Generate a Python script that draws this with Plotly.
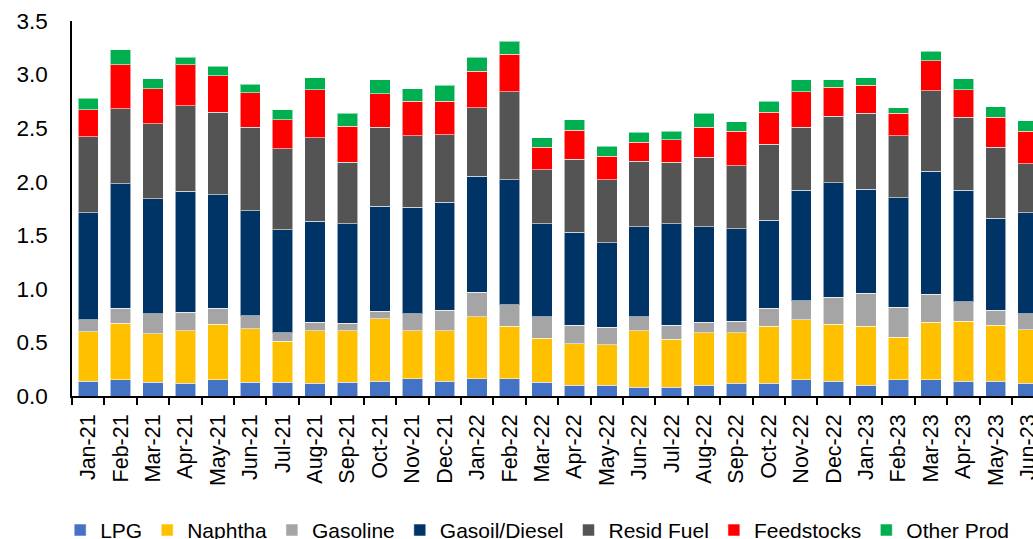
import plotly.graph_objects as go

months = ["Jan-21", "Feb-21", "Mar-21", "Apr-21", "May-21", "Jun-21", "Jul-21", "Aug-21",
          "Sep-21", "Oct-21", "Nov-21", "Dec-21", "Jan-22", "Feb-22", "Mar-22", "Apr-22",
          "May-22", "Jun-22", "Jul-22", "Aug-22", "Sep-22", "Oct-22", "Nov-22", "Dec-22",
          "Jan-23", "Feb-23", "Mar-23", "Apr-23", "May-23", "Jun-23"]

lpg = [0.14, 0.15, 0.13, 0.12, 0.15, 0.13, 0.13, 0.12, 0.13, 0.14, 0.16, 0.14, 0.16, 0.16, 0.13,
       0.10, 0.10, 0.08, 0.08, 0.10, 0.12, 0.12, 0.15, 0.14, 0.10, 0.15, 0.15, 0.14, 0.14, 0.12]
naphtha = [0.46, 0.53, 0.45, 0.49, 0.52, 0.50, 0.38, 0.49, 0.48, 0.58, 0.45, 0.47, 0.58, 0.49, 0.41,
           0.39, 0.38, 0.53, 0.45, 0.49, 0.47, 0.53, 0.56, 0.53, 0.55, 0.40, 0.54, 0.56, 0.52, 0.50]
gasoline = [0.11, 0.14, 0.19, 0.17, 0.15, 0.12, 0.08, 0.08, 0.07, 0.07, 0.16, 0.19, 0.23, 0.20, 0.20,
            0.17, 0.16, 0.13, 0.13, 0.10, 0.11, 0.17, 0.18, 0.25, 0.31, 0.28, 0.26, 0.18, 0.14, 0.15]
diesel = [1.00, 1.16, 1.07, 1.13, 1.06, 0.98, 0.96, 0.94, 0.93, 0.98, 0.99, 1.01, 1.08, 1.17, 0.87,
          0.87, 0.79, 0.84, 0.95, 0.89, 0.86, 0.82, 1.03, 1.07, 0.97, 1.02, 1.15, 1.04, 0.86, 0.94]
resid = [0.71, 0.70, 0.70, 0.80, 0.77, 0.78, 0.76, 0.78, 0.57, 0.74, 0.67, 0.63, 0.64, 0.82, 0.50,
         0.68, 0.59, 0.61, 0.57, 0.65, 0.59, 0.71, 0.59, 0.62, 0.71, 0.58, 0.75, 0.68, 0.66, 0.46]
feedstocks = [0.25, 0.41, 0.33, 0.38, 0.34, 0.32, 0.27, 0.45, 0.34, 0.31, 0.32, 0.31, 0.34, 0.35, 0.21,
              0.27, 0.22, 0.18, 0.21, 0.28, 0.32, 0.30, 0.33, 0.27, 0.26, 0.21, 0.28, 0.26, 0.28, 0.30]
other = [0.11, 0.14, 0.09, 0.07, 0.09, 0.08, 0.09, 0.11, 0.12, 0.13, 0.12, 0.15, 0.13, 0.12, 0.09,
         0.10, 0.09, 0.09, 0.08, 0.13, 0.09, 0.10, 0.11, 0.07, 0.07, 0.05, 0.09, 0.10, 0.10, 0.10]

series = [
    ("LPG", lpg, "#4472C4"),
    ("Naphtha", naphtha, "#FFC000"),
    ("Gasoline", gasoline, "#A5A5A5"),
    ("Gasoil/Diesel", diesel, "#003366"),
    ("Resid Fuel", resid, "#545454"),
    ("Feedstocks", feedstocks, "#FF0000"),
    ("Other Prod", other, "#00B050"),
]

fig = go.Figure()
for name, vals, color in series:
    fig.add_trace(go.Bar(
        x=months, y=vals, name=name,
        marker=dict(color=color, line=dict(color="rgba(255,255,255,0.55)", width=1)),
    ))

FONT = "Liberation Sans, Arial, sans-serif"

fig.update_layout(
    width=1033, height=539,
    barmode="stack", bargap=0.37,
    plot_bgcolor="white", paper_bgcolor="white",
    margin=dict(l=72, r=0, t=21, b=143, autoexpand=False),
    font=dict(family=FONT, color="#000000"),
    showlegend=True,
    legend=dict(
        orientation="h", traceorder="normal",
        xref="container", yref="container",
        x=0.52, xanchor="center", y=0.016, yanchor="middle",
        font=dict(size=21, family=FONT, color="#000000"),
        itemwidth=30,
    ),
)

fig.update_xaxes(
    type="category", range=[-0.5, 29.15],
    showline=True, linecolor="#000000", linewidth=1.5,
    ticks="outside", tickson="boundaries", ticklen=7, tickwidth=1.5, tickcolor="#000000",
    tickangle=-90, ticklabelstandoff=8,
    tickfont=dict(size=21.5, family=FONT, color="#000000"),
    showgrid=False, zeroline=False,
)
fig.update_yaxes(
    range=[0, 3.5], dtick=0.5, tickformat=".1f",
    showline=True, linecolor="#000000", linewidth=1.5,
    ticks="", ticklabelstandoff=18,
    tickfont=dict(size=22.5, family=FONT, color="#000000"),
    showgrid=False, zeroline=False,
)

fig.write_html(
    "out.html",
    config={"displayModeBar": False},
    post_script="document.body.style.margin='0';document.body.style.overflow='hidden';",
)
